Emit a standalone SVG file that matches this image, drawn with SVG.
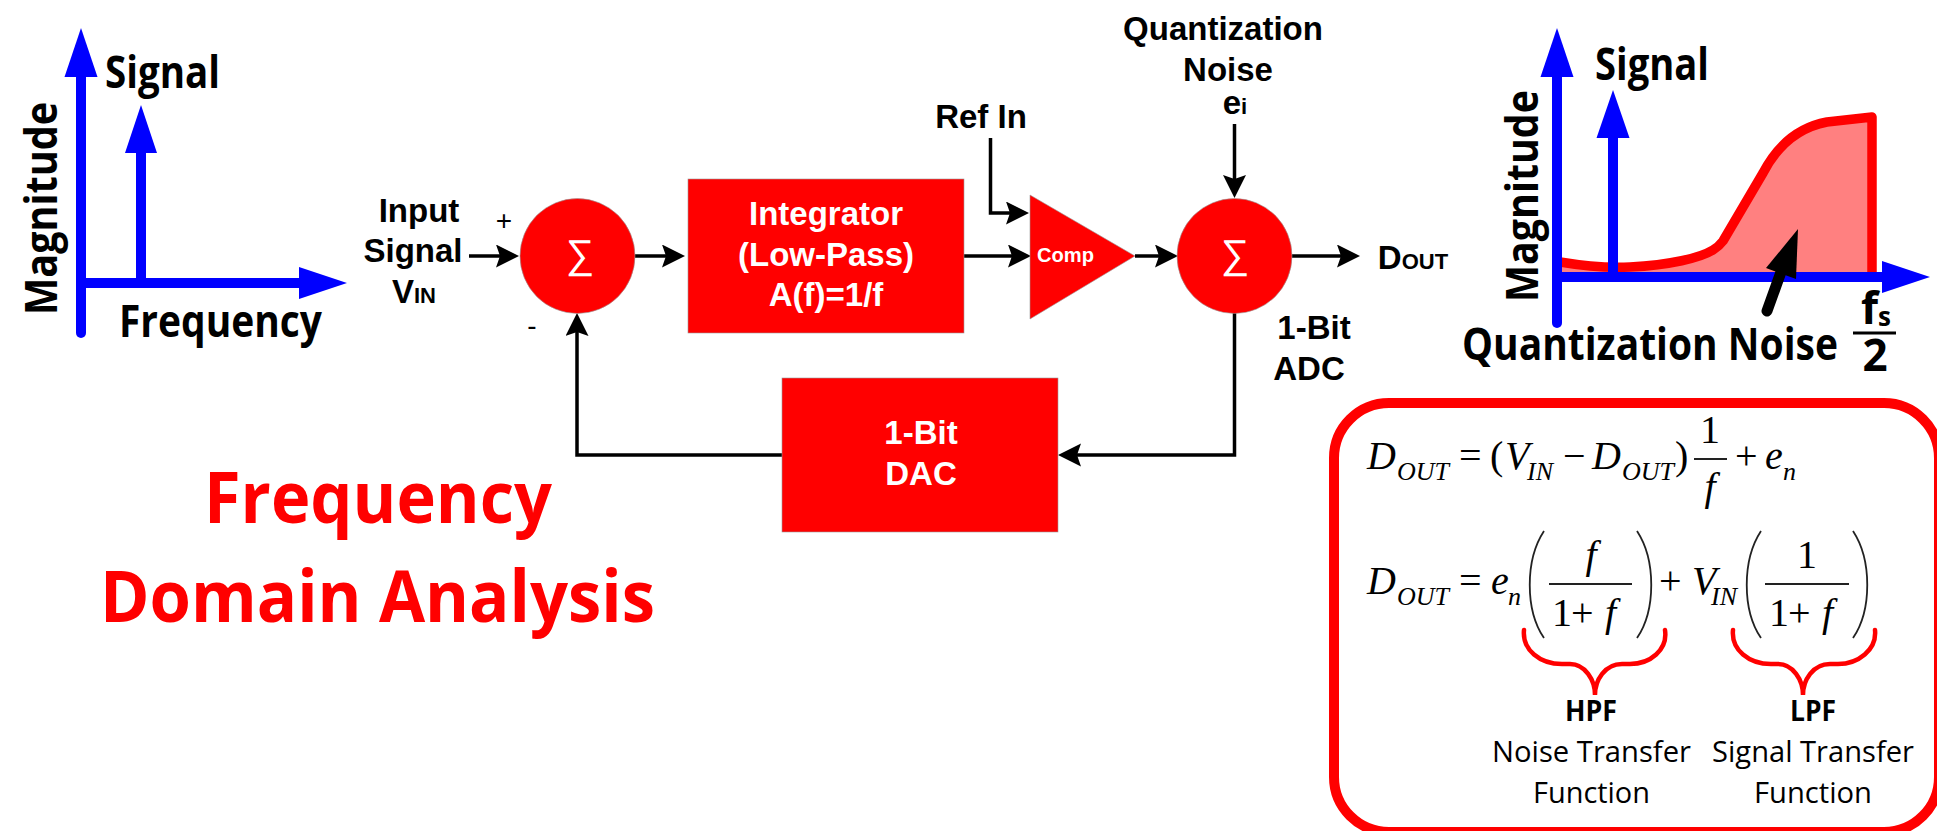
<svg xmlns="http://www.w3.org/2000/svg" width="1937" height="831" viewBox="0 0 1937 831">
<style>
text{font-family:"Liberation Sans",Arial,sans-serif;fill:#000}
.a{font-weight:700;font-size:33px;text-anchor:middle}
.w{fill:#fff}
.sub{font-size:22px}
.c{font-family:"Open Sans","Noto Sans",sans-serif;font-weight:700;font-size:44px}
.t{font-family:"Open Sans","Noto Sans",sans-serif;font-weight:700;font-size:72px;fill:#f00}
.n{font-family:"Open Sans","Noto Sans",sans-serif;font-size:29px}
.nb{font-weight:700}
.m{font-family:"Liberation Serif","Times New Roman",serif;font-size:40px}
.mi{font-style:italic}
.ms{font-family:"Liberation Serif","Times New Roman",serif;font-style:italic;font-size:26px}
.blk{fill:#f00;stroke:#999;stroke-width:.6}
.sig{font-family:"Liberation Sans",sans-serif;font-size:40px;fill:#fff;text-anchor:middle}
.ln{fill:none;stroke:#000;stroke-width:3.5;marker-end:url(#ah)}
.bl{stroke:#00f;stroke-width:10;fill:none}
.bh{fill:#00f}
.br{fill:none;stroke:#f00;stroke-width:4.5;stroke-linecap:round}
.par{fill:none;stroke:#222;stroke-width:1.8}
.rule{stroke:#222;stroke-width:1.8}
</style>
<defs>
<marker id="ah" markerUnits="userSpaceOnUse" markerWidth="24" markerHeight="24" refX="15" refY="11.5" orient="auto"><path d="M0,0L23,11.5L0,23L4,11.5Z" fill="#000"/></marker>
</defs>

<g id="chart-left">
<path class="bl" d="M81,70V333" stroke-linecap="round"/>
<path class="bl" d="M81,283H305"/>
<path class="bl" d="M141,150V283"/>
<path class="bh" d="M81,28L97.500,77H64.500Z"/>
<path class="bh" d="M347,283L299,267V299Z"/>
<path class="bh" d="M141,105L157,153H125Z"/>
<text class="c" transform="translate(57,315) rotate(-90)" textLength="213" lengthAdjust="spacingAndGlyphs">Magnitude</text>
<text class="c" x="105" y="88" textLength="115" lengthAdjust="spacingAndGlyphs">Signal</text>
<text class="c" x="119" y="337" textLength="203" lengthAdjust="spacingAndGlyphs">Frequency</text>
</g>

<g id="title">
<text class="t" x="204" y="523" textLength="348" lengthAdjust="spacingAndGlyphs">Frequency</text>
<text class="t" x="100" y="622" textLength="555" lengthAdjust="spacingAndGlyphs">Domain Analysis</text>
</g>

<g id="connectors">
<path class="ln" d="M469,256H511"/>
<path class="ln" d="M635,256H677"/>
<path class="ln" d="M964,256H1023"/>
<path class="ln" d="M990.500,138V213H1021"/>
<path class="ln" d="M1135,256H1170"/>
<path class="ln" d="M1234.500,124V190"/>
<path class="ln" d="M1292,256H1352"/>
<path class="ln" d="M1234.500,313V455H1066"/>
<path class="ln" d="M782,455H577V321"/>
</g>

<g id="input-label">
<text class="a" x="419" y="222">Input</text>
<text class="a" x="413" y="262">Signal</text>
<text class="a" x="414" y="303">V<tspan class="sub">IN</tspan></text>
<text x="504" y="230" font-size="28" text-anchor="middle">+</text>
<text x="532" y="335" font-size="28" text-anchor="middle">-</text>
</g>

<g id="sum-1">
<ellipse class="blk" cx="577.500" cy="256" rx="57.500" ry="57.500"/>
<text class="sig" x="580" y="268">∑</text>
</g>

<g id="integrator">
<rect class="blk" x="688" y="179" width="276" height="154"/>
<text class="a w" x="826" y="225">Integrator</text>
<text class="a w" x="826" y="266">(Low-Pass)</text>
<text class="a w" x="826" y="306">A(f)=1/f</text>
</g>

<g id="comparator">
<path class="blk" d="M1030,195L1135,256L1030,319Z"/>
<text x="1037" y="262" font-size="21" font-weight="700" class="w" textLength="57" lengthAdjust="spacingAndGlyphs">Comp</text>
</g>

<g id="sum-2">
<ellipse class="blk" cx="1234.500" cy="256" rx="57.500" ry="57.500"/>
<text class="sig" x="1235" y="268">∑</text>
</g>

<g id="dac">
<rect class="blk" x="782" y="378" width="276" height="154"/>
<text class="a w" x="921" y="444">1-Bit</text>
<text class="a w" x="921" y="485">DAC</text>
</g>

<g id="labels">
<text class="a" x="981" y="128">Ref In</text>
<text class="a" x="1223" y="40">Quantization</text>
<text class="a" x="1228" y="81">Noise</text>
<text class="a" x="1235" y="114">e<tspan class="sub">i</tspan></text>
<text class="a" x="1413" y="269">D<tspan class="sub">OUT</tspan></text>
<text class="a" x="1314" y="339">1-Bit</text>
<text class="a" x="1309" y="380">ADC</text>
</g>

<g id="chart-right">
<path d="M1560,262C1590,267 1610,268 1630,267C1670,265 1700,258 1713,250C1718,247 1720,245 1723,241L1763,173C1775,150 1795,128 1827,122L1872,117V272H1560Z" fill="#ff8080"/>
<path d="M1560,262C1590,267 1610,268 1630,267C1670,265 1700,258 1713,250C1718,247 1720,245 1723,241L1763,173C1775,150 1795,128 1827,122L1872,117V272" fill="none" stroke="#f00" stroke-width="9.500" stroke-linejoin="round"/>
<path class="bl" d="M1557,70V323" stroke-linecap="round"/>
<path class="bl" d="M1557,277H1890"/>
<path class="bl" d="M1613,130V277"/>
<path class="bh" d="M1557,28L1573.500,77H1540.500Z"/>
<path class="bh" d="M1930,277L1882,261V293Z"/>
<path class="bh" d="M1613,90L1629.500,138H1596.500Z"/>
<path d="M1798,229L1796,279L1766,268Z" fill="#000"/>
<path d="M1781,272L1767,311" stroke="#000" stroke-width="11" stroke-linecap="round"/>
<text class="c" transform="translate(1538,302) rotate(-90)" textLength="212" lengthAdjust="spacingAndGlyphs">Magnitude</text>
<text class="c" x="1595" y="80" textLength="114" lengthAdjust="spacingAndGlyphs">Signal</text>
<text class="c" x="1462" y="360" textLength="376" lengthAdjust="spacingAndGlyphs">Quantization Noise</text>
<text class="c" x="1861" y="324">f<tspan font-size="26" dy="2">s</tspan></text>
<path d="M1853,333H1896" stroke="#000" stroke-width="3"/>
<text class="c" x="1875" y="371" text-anchor="middle">2</text>
</g>

<g id="equations">
<rect x="1334" y="403" width="605" height="429" rx="55" ry="55" fill="#fff" stroke="#f00" stroke-width="10"/>
<text class="m mi" x="1367" y="469">D<tspan class="ms" x="1397" y="480">OUT</tspan></text>
<text class="m" x="1459" y="469">=</text><text class="m" x="1490" y="469">(</text>
<text class="m mi" x="1505" y="469">V<tspan class="ms" x="1527" y="480">IN</tspan></text>
<text class="m" x="1563" y="469">−</text>
<text class="m mi" x="1592" y="469">D<tspan class="ms" x="1622" y="480">OUT</tspan></text>
<text class="m" x="1675" y="469">)</text>
<text class="m" x="1710" y="443" text-anchor="middle">1</text>
<path class="rule" d="M1694,459H1727"/>
<text class="m mi" x="1710" y="500" text-anchor="middle">f</text>
<text class="m" x="1735" y="469">+</text>
<text class="m mi" x="1765" y="469">e<tspan class="ms" x="1783" y="480">n</tspan></text>

<text class="m mi" x="1367" y="594">D<tspan class="ms" x="1397" y="605">OUT</tspan></text>
<text class="m" x="1459" y="594">=</text>
<text class="m mi" x="1491" y="594">e<tspan class="ms" x="1508" y="605">n</tspan></text>
<path class="par" d="M1544,531C1525,560 1525,610 1544,638"/>
<path class="rule" d="M1549,584H1632"/>
<text class="m mi" x="1591" y="568" text-anchor="middle">f</text>
<text class="m" x="1552" y="626">1</text><text class="m" x="1571" y="626">+</text><text class="m mi" x="1605" y="626">f</text>
<path class="par" d="M1637,531C1656,560 1656,610 1637,638"/>
<text class="m" x="1659" y="594">+</text>
<text class="m mi" x="1692" y="594">V<tspan class="ms" x="1711" y="605">IN</tspan></text>
<path class="par" d="M1761,531C1742,560 1742,610 1761,638"/>
<path class="rule" d="M1765,584H1849"/>
<text class="m" x="1807" y="568" text-anchor="middle">1</text>
<text class="m" x="1769" y="626">1</text><text class="m" x="1788" y="626">+</text><text class="m mi" x="1822" y="626">f</text>
<path class="par" d="M1853,531C1872,560 1872,610 1853,638"/>

<path class="br" d="M1524,630C1522,650 1540,664 1562,664H1570C1585,664 1595,680 1595,695C1595,680 1605,664 1622,664H1630C1650,664 1668,650 1665,630"/>
<path class="br" d="M1733,630C1731,650 1749,664 1771,664H1778C1793,664 1803,680 1803,695C1803,680 1813,664 1830,664H1838C1858,664 1877,650 1875,630"/>
<text class="n nb" x="1565" y="721" textLength="52" lengthAdjust="spacingAndGlyphs">HPF</text>
<text class="n nb" x="1790" y="721" textLength="46" lengthAdjust="spacingAndGlyphs">LPF</text>
<text class="n" x="1492" y="762" textLength="199" lengthAdjust="spacingAndGlyphs">Noise Transfer</text>
<text class="n" x="1533" y="803" textLength="117" lengthAdjust="spacingAndGlyphs">Function</text>
<text class="n" x="1712" y="762" textLength="202" lengthAdjust="spacingAndGlyphs">Signal Transfer</text>
<text class="n" x="1754" y="803" textLength="118" lengthAdjust="spacingAndGlyphs">Function</text>
</g>
</svg>
